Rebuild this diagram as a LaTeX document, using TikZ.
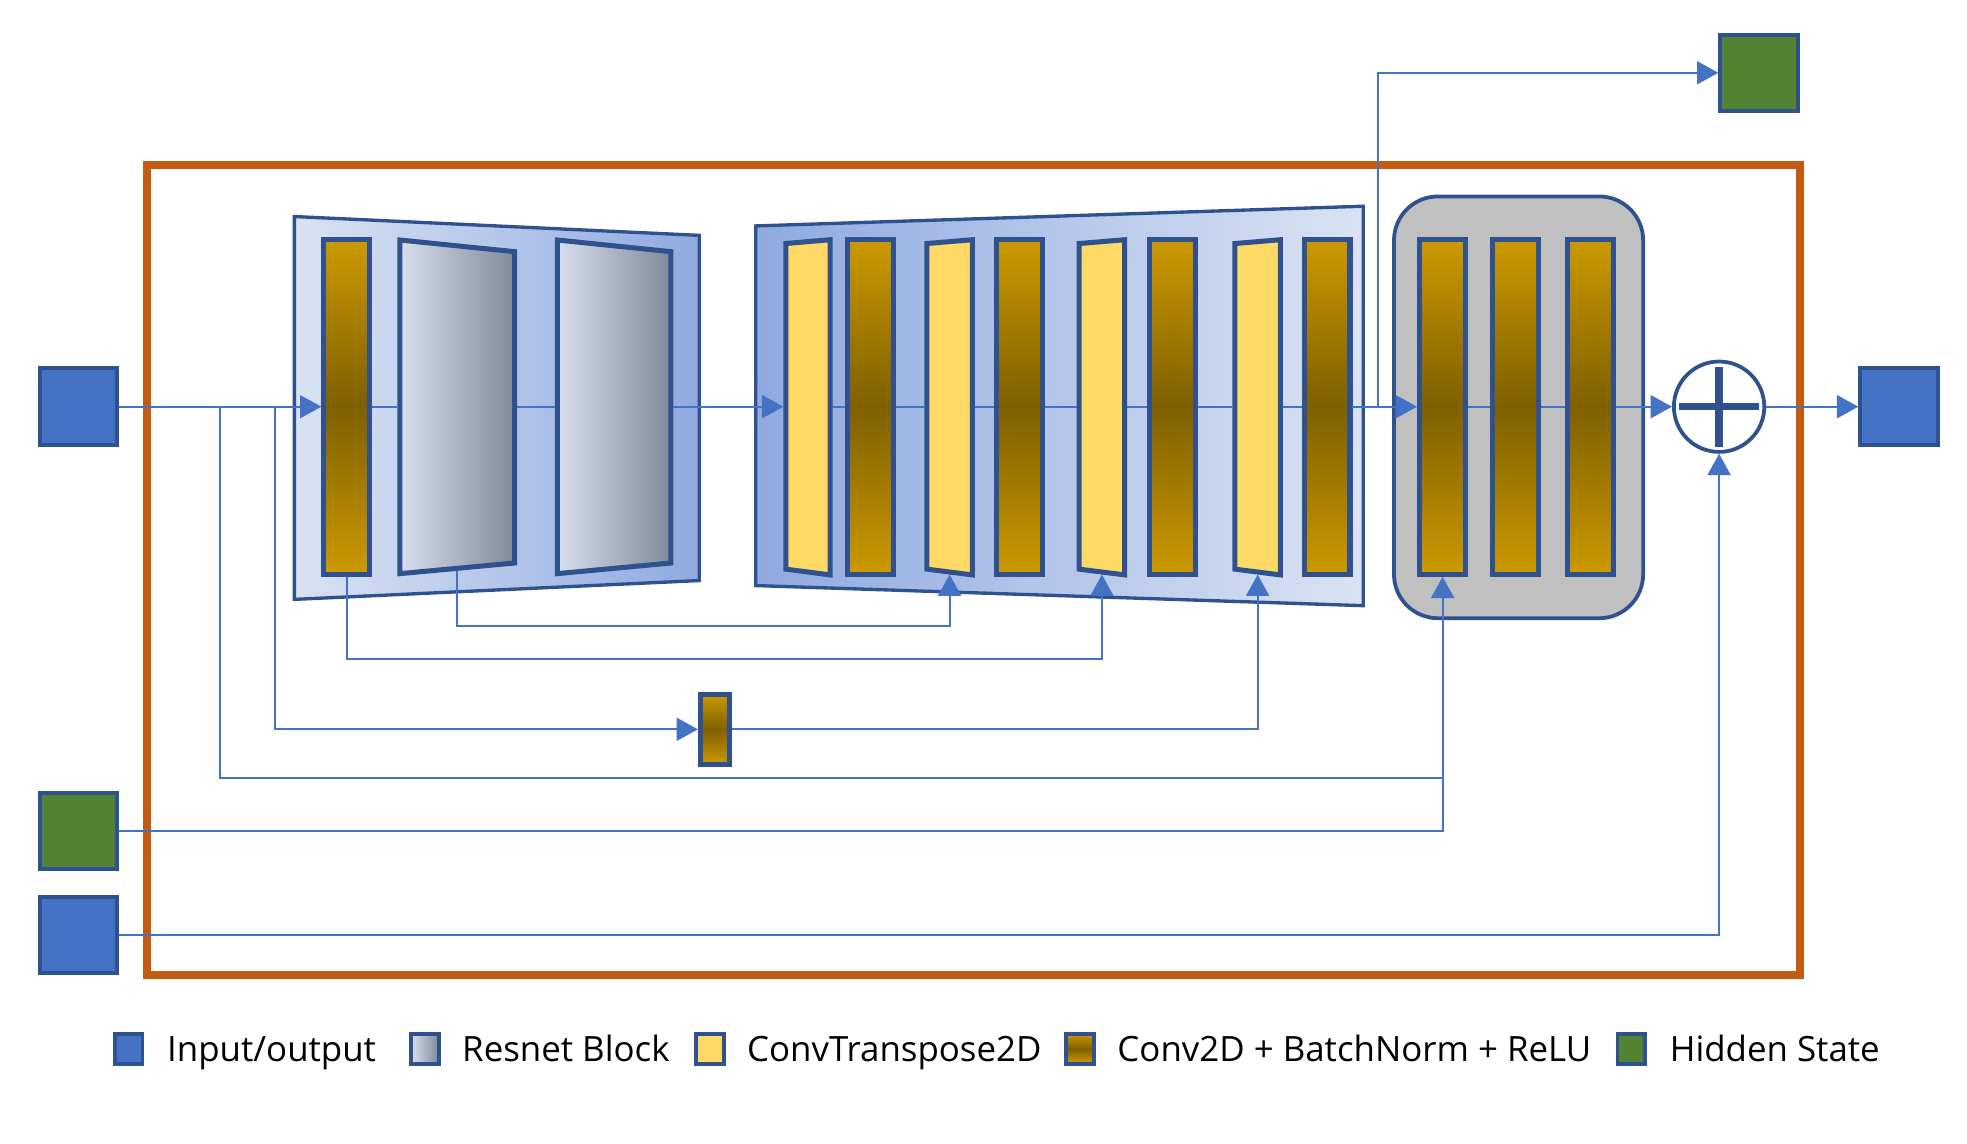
\documentclass[tikz,border=0pt]{standalone}
\usepackage{fontspec}
\setmainfont{Open Sans}
\usetikzlibrary{arrows.meta}
\definecolor{ioblue}{HTML}{4472C4}
\definecolor{edge}{HTML}{2F528F}
\definecolor{hgreen}{HTML}{548235}
\definecolor{framec}{HTML}{C55A11}
\definecolor{ygold}{HTML}{FFD966}
\definecolor{gtop}{RGB}{204,153,0}
\definecolor{gmid}{RGB}{127,96,0}
\definecolor{encL}{RGB}{218,227,243}
\definecolor{encR}{RGB}{143,170,224}
\definecolor{resL}{RGB}{216,222,236}
\definecolor{resR}{RGB}{128,138,155}
\definecolor{grayblk}{RGB}{192,192,192}
\begin{document}
\begin{tikzpicture}[x=0.3mm,y=-0.3mm,
  conn/.style={draw=ioblue,line width=0.45mm},
  arr/.style={-{Triangle[length=5.1mm,width=5.5mm]}},
  iobox/.style={draw=edge,line width=0.95mm,fill=ioblue,inner sep=0pt,minimum width={62*0.3mm},minimum height={61*0.3mm}},
  hbox/.style={iobox,fill=hgreen},
  goldbar/.style={draw=edge,line width=1.2mm,top color=gtop,bottom color=gtop,middle color=gmid,inner sep=0pt,minimum width={36.6*0.3mm},minimum height={267*0.3mm}},
  trap/.style={draw=edge,line width=0.8mm},
  ybar/.style={draw=edge,line width=1.2mm,fill=ygold},
  resblk/.style={draw=edge,line width=1.2mm,left color=resL,right color=resR},
  legsq/.style={draw=edge,line width=0.9mm,inner sep=0pt,minimum width={22*0.3mm},minimum height={24*0.3mm}},
  legtxt/.style={anchor=base west,inner sep=0pt,font=\fontsize{23.7}{28}\selectfont}
]
\useasboundingbox (0,0) rectangle (1567,911);

% outer frame
\draw[draw=framec,line width=1.95mm] (117,131.5) rectangle (1434,777);

% encoder trapezoid
\path[trap,left color=encL,right color=encR] (234.5,172.5) -- (557,187.5) -- (557,462.5) -- (234.5,477.5) -- cycle;
% decoder trapezoid
\path[trap,left color=encR,right color=encL] (602,180) -- (1086,164.3) -- (1086,482.5) -- (602,466.5) -- cycle;
% gray block
\draw[draw=edge,fill=grayblk,line width=0.9mm,rounded corners=10.5mm] (1110.5,156.5) rectangle (1309,492.5);

% resnet blocks
\path[resblk] (318.5,191.2) -- (410,200.5) -- (410,448.5) -- (318.5,457) -- cycle;
\coordinate (r1w) at (316.5,324); \coordinate (r1e) at (412,324); \coordinate (r1b) at (364,454.5);
\path[resblk] (444,191.2) -- (534.5,200.5) -- (534.5,448.5) -- (444,457) -- cycle;
\coordinate (r2w) at (442,324); \coordinate (r2e) at (536.5,324);

% yellow ConvTranspose trapezoids
\foreach \a/\b/\n in {624/663.3/1,736.4/776.6/2,857.7/898/3,981.8/1022/4}{
  \path[ybar] (\a+2,194) -- (\b-2,191) -- (\b-2,458) -- (\a+2,453.4) -- cycle;
  \coordinate (y\n w) at (\a,324);
  \coordinate (y\n e) at (\b,324);
  \coordinate (y\n b) at ({(\a+\b)/2},457.7);
}

% gold bars
\node[goldbar] (ec) at (276.3,324) {};
\node[goldbar] (g1) at (693.6,324) {};
\node[goldbar] (g2) at (812.3,324) {};
\node[goldbar] (g3) at (933.7,324) {};
\node[goldbar,minimum width={35.9*0.3mm}] (g4) at (1057.5,324) {};
\node[goldbar,minimum width={36.7*0.3mm}] (gb1) at (1149.25,324) {};
\node[goldbar,minimum width={36.7*0.3mm}] (gb2) at (1207.4,324) {};
\node[goldbar,minimum width={36.7*0.3mm}] (gb3) at (1267.25,324) {};
\node[goldbar,minimum width={23*0.3mm},minimum height={55.3*0.3mm}] (sc) at (569.5,581) {};

% plus
\node[circle,draw=edge,line width=0.9mm,fill=white,minimum size={72*0.3mm},inner sep=0pt] (plus) at (1369.5,324) {};
\draw[draw=edge,line width=1.8mm] (plus.center) ++(0,-32) -- ++(0,64);
\draw[draw=edge,line width=1.8mm] (plus.center) ++(-32,0) -- ++(64,0);

% io boxes
\node[iobox] (in1) at (62.5,324) {};
\node[hbox] (hin) at (62.5,662) {};
\node[iobox] (cin) at (62.5,745) {};
\node[hbox] (hout) at (1401.5,58) {};
\node[iobox] (out) at (1513,324) {};

% junctions
\coordinate (j1) at (175,324);
\coordinate (j2) at (219,324);
\coordinate (j3) at (1098,324);
\coordinate (k1) at (1149.25,619.7);

% main chain
\draw[conn,arr] (in1.east) -- (ec.west);
\draw[conn] (ec.east) -- (r1w);
\draw[conn] (r1e) -- (r2w);
\draw[conn,arr] (r2e) -- (y1w);
\draw[conn] (y1e) -- (g1.west);
\draw[conn] (g1.east) -- (y2w);
\draw[conn] (y2e) -- (g2.west);
\draw[conn] (g2.east) -- (y3w);
\draw[conn] (y3e) -- (g3.west);
\draw[conn] (g3.east) -- (y4w);
\draw[conn] (y4e) -- (g4.west);
\draw[conn,arr] (g4.east) -- (gb1.west);
\draw[conn] (gb1.east) -- (gb2.west);
\draw[conn] (gb2.east) -- (gb3.west);
\draw[conn,arr] (gb3.east) -- (plus.west);
\draw[conn,arr] (plus.east) -- (out.west);
\draw[conn,arr] (j3) |- (hout.west);

% skip connections
\draw[conn,arr] (r1b) -- ++(0,44) -| (y2b);
\draw[conn,arr] (ec.south) -- ++(0,65.4) -| (y3b);
\draw[conn,arr] (j2) |- (sc.west);
\draw[conn,arr] (sc.east) -| (y4b);
\draw[conn] (j1) |- (k1);
\draw[conn,arr] (hin.east) -| (gb1.south);
\draw[conn,arr] (cin.east) -| (plus.south);

% legend
\node[legsq,fill=ioblue] (l1) at (102.5,835.5) {};
\node[legtxt] (t1) at (133,846) {Input/output};
\node[legsq,left color=resL,right color=resR] (l2) at (338.5,835.5) {};
\node[legtxt] (t2) at (368,846) {Resnet Block};
\node[legsq,fill=ygold] (l3) at (565.5,835.5) {};
\node[legtxt] (t3) at (595,846) {ConvTranspose2D};
\node[legsq,top color=gtop,bottom color=gtop,middle color=gmid] (l4) at (860.5,835.5) {};
\node[legtxt] (t4) at (890,846) {Conv2D + BatchNorm + ReLU};
\node[legsq,fill=hgreen] (l5) at (1299.5,835.5) {};
\node[legtxt] (t5) at (1330,846) {Hidden State};
\end{tikzpicture}
\end{document}
